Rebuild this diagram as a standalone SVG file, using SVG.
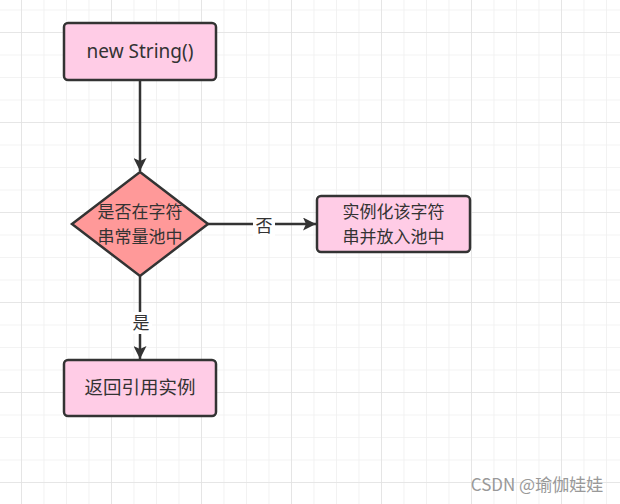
<svg xmlns="http://www.w3.org/2000/svg" width="620" height="504" viewBox="0 0 620 504">
<defs>
<pattern id="minor" x="21" y="9.5" width="22.5" height="22.5" patternUnits="userSpaceOnUse">
<path d="M0 0V22.5M0 0H22.5" fill="none" stroke="#efefef" stroke-width="1.6"/>
</pattern>
<pattern id="major" x="21" y="32" width="90" height="90" patternUnits="userSpaceOnUse">
<path d="M0 0V90M0 0H90" fill="none" stroke="#e2e2e2" stroke-width="1.6"/>
</pattern>
<marker id="arr" viewBox="0 0 13 13" refX="13" refY="6.5" markerWidth="13" markerHeight="13" markerUnits="userSpaceOnUse" orient="auto">
<path d="M0 0L13 6.5L0 13L3 6.5Z" fill="#333"/>
</marker>
</defs>
<style>
.node{stroke:#333;stroke-width:2.5}
.box{fill:#ffcce6}
.dia{fill:#ff9999}
.t{font-family:"Noto Sans CJK SC","Noto Sans",sans-serif;font-size:18.5px;fill:#333;text-anchor:middle}
.t2{font-family:"Noto Sans CJK SC","Noto Sans",sans-serif;font-size:17px;fill:#333;text-anchor:middle}
.lat{font-family:"Noto Sans","Noto Sans CJK SC",sans-serif;font-size:19px;fill:#333;text-anchor:middle}
.edge{stroke:#333;stroke-width:2.5;fill:none}
.lbl{font-family:"Noto Sans CJK SC","Noto Sans",sans-serif;font-size:17px;fill:#333;text-anchor:middle}
.wm{font-family:"Noto Sans CJK SC","Noto Sans",sans-serif;font-size:17px;fill:#999;text-anchor:middle}
</style>
<rect width="620" height="504" fill="#fff"/>
<rect width="620" height="504" fill="url(#minor)"/>
<rect width="620" height="504" fill="url(#major)"/>
<g id="connectors">
<path class="edge" d="M140 80V171" marker-end="url(#arr)"/>
<path class="edge" d="M208 224H316" marker-end="url(#arr)"/>
<path class="edge" d="M140 276V359" marker-end="url(#arr)"/>
<rect x="253" y="214" width="22" height="22" fill="#fff"/>
<text class="lbl" x="264" y="232">否</text>
<rect x="130" y="312" width="22" height="22" fill="#fff"/>
<text class="lbl" x="141" y="329">是</text>
</g>
<g id="n1">
<rect class="node box" x="64" y="23" width="152" height="57" rx="4"/>
<text class="lat" x="140" y="58">new String()</text>
</g>
<g id="n2">
<path class="node dia" d="M140 172L208 224L140 276L72 224Z"/>
<text class="t2" x="140" y="218"><tspan x="140" y="218">是否在字符</tspan><tspan x="140" y="243">串常量池中</tspan></text>
</g>
<g id="n3">
<rect class="node box" x="317" y="196" width="153" height="56" rx="4"/>
<text class="t2" x="393.5" y="218"><tspan x="393.5" y="218">实例化该字符</tspan><tspan x="393.5" y="243">串并放入池中</tspan></text>
</g>
<g id="n4">
<rect class="node box" x="64" y="360" width="152" height="56" rx="4"/>
<text class="t" x="140" y="394">返回引用实例</text>
</g>
<text class="wm" x="537" y="491">CSDN @瑜伽娃娃</text>
</svg>
